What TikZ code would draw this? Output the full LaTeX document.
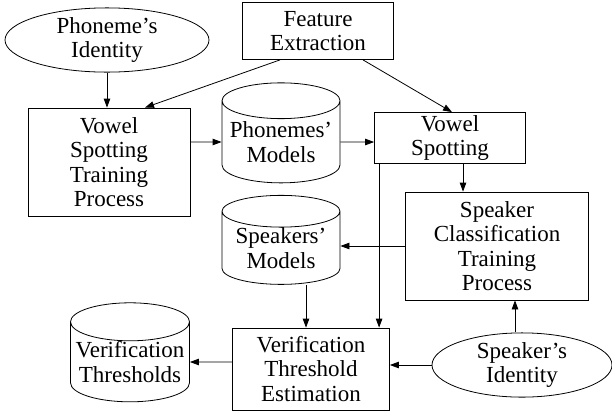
\documentclass[tikz,border=0pt]{standalone}
\usepackage{fontspec}
\setmainfont{Liberation Serif}
\usetikzlibrary{shapes.geometric,arrows.meta}

\begin{document}
\begin{tikzpicture}[x=1pt, y=-1pt, line width=0.8pt,
    every node/.style={align=center, font=\fontsize{23}{24.5}\selectfont},
    box/.style={draw, inner sep=0pt},
    db/.style={draw, cylinder, shape border rotate=90, aspect=0.35, inner sep=0pt},
    who/.style={draw, ellipse, inner sep=0pt},
    >={Triangle[length=9pt, width=6.5pt]}]
    \useasboundingbox (0,0) rectangle (612,416);
    % inputs
    \node[who, minimum width=204, minimum height=58] (phid) at (107,40) {Phoneme’s\\Identity};
    \node[box, minimum width=151, minimum height=57] (feat) at (318,31) {Feature\\Extraction};
    \node[who, minimum width=180, minimum height=62] (spid) at (522,365) {Speaker’s\\Identity};
    % processes
    \node[box, minimum width=162, minimum height=108] (vstp) at (109,162) {Vowel\\Spotting\\Training\\Process};
    \node[box, minimum width=151, minimum height=51] (vs) at (450,138) {Vowel\\Spotting};
    \node[box, minimum width=183, minimum height=108] (sctp) at (497,246) {Speaker\\Classification\\Training\\Process};
    \node[box, minimum width=157, minimum height=82] (vte) at (311,369) {Verification\\Threshold\\Estimation};
    % stores
    \node[db, minimum width=118, minimum height=100] (phmod) at (281,142) {Phonemes’\\Models};
    \node[db, minimum width=118, minimum height=89] (spmod) at (281,248) {Speakers’\\Models};
    \node[db, minimum width=119, minimum height=99] (vthr) at (130,362) {Verification\\Thresholds};
    % flows
    \draw[->] (phid) -- (phid |- vstp.north);
    \draw[->] ([xshift=-38pt]feat.south) -- ([xshift=36pt]vstp.north);
    \draw[->] ([xshift=45pt]feat.south) -- ([xshift=2pt]vs.north);
    \draw[->] (vstp.east |- phmod) -- (phmod);
    \draw[->] (phmod) -- (vs.west |- phmod);
    \draw[->] ([xshift=13pt]vs.south) -- ([xshift=13pt]vs.south |- sctp.north);
    \draw[->] (sctp.west) -- (sctp.west -| spmod.east);
    \draw[->] ([xshift=5pt]vs.south west) -- ([xshift=5pt]vs.south west |- vte.north);
    \draw[->] ([xshift=25pt]spmod.south) -- ([xshift=25pt]spmod.south |- vte.north);
    \draw[->] (vte.west |- vthr) -- (vthr);
    \draw[->] (spid) -- (vte.east |- spid);
    \draw[->] ([xshift=-7pt]spid.north) -- ([xshift=-7pt]spid.north |- sctp.south);
\end{tikzpicture}
\end{document}
